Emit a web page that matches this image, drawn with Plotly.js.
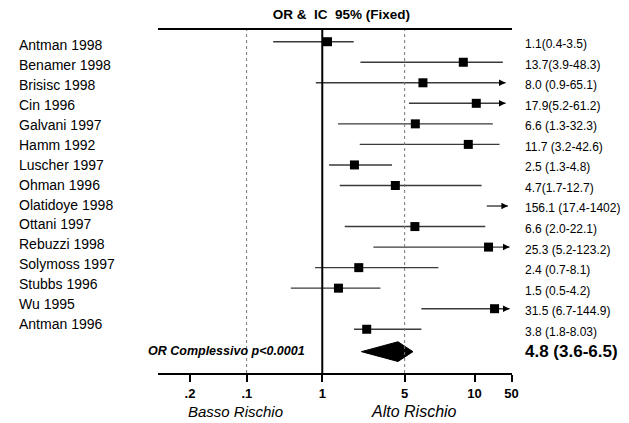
<!DOCTYPE html>
<html>
<head>
<meta charset="utf-8">
<script src="https://cdn.plot.ly/plotly-3.0.1.min.js"></script>
<style>html,body{margin:0;padding:0;background:#fff;}#chart{width:629px;height:423px;}</style>
</head>
<body>
<div id="chart"></div>
<script>
// ---- data ----
const studies = ["Antman 1998","Benamer 1998","Brisisc 1998","Cin 1996","Galvani 1997","Hamm 1992",
  "Luscher 1997","Ohman 1996","Olatidoye 1998","Ottani 1997","Rebuzzi 1998","Solymoss 1997",
  "Stubbs 1996","Wu 1995","Antman 1996"];
const orLabels = ["1.1(0.4-3.5)","13.7(3.9-48.3)","8.0 (0.9-65.1)","17.9(5.2-61.2)","6.6 (1.3-32.3)",
  "11.7 (3.2-42.6)","2.5 (1.3-4.8)","4.7(1.7-12.7)","156.1 (17.4-1402)","6.6 (2.0-22.1)",
  "25.3 (5.2-123.2)","2.4 (0.7-8.1)","1.5 (0.5-4.2)","31.5 (6.7-144.9)","3.8 (1.8-8.03)"];
// drawn positions (OR units on the chart's axis)
const orEst  = [1.107, 15.73, 7.15, 20.27, 6.16, 17.34, 1.875, 4.17, null, 6.11, 25.76, 2.04, 1.372, 28.97, 2.383];
const ciLow  = [0.383, 2.108, 0.881, 5.44, 1.361, 2.079, 1.142, 1.407, 24.9, 1.551, 2.716, 0.869, 0.541, 6.93, 1.86];
const ciHigh = [1.849, 34.06, 35.9, 35.9, 28.0, 31.9, 3.905, 22.48, 37.6, 24.15, 38.8, 9.66, 3.113, 38.8, 6.93];
const truncated = [false,false,true,true,false,false,false,false,true,false,true,false,false,true,false];
const pooledLow = 2.149, pooledEst = 4.39, pooledHigh = 5.88;
const pooledLabel = "4.8 (3.6-6.5)";
const pooledText = "OR Complessivo p<0.0001";
const tickValues = [0.0754, 0.229, 1, 5, 19.6, 40.4];
const tickLabels = [".2", ".1", "1", "5", "10", "50"];
const dottedRefs = [0.228, 5];
const solidRef = 1;

// ---- build ----
const L = v => (v == null ? null : Math.log10(v));
const FONT = "Liberation Sans, Arial, sans-serif";
const rows = studies.map((_, i) => i);
const sumRow = 15.09;

const lx = [], ly = [];
rows.forEach(i => { lx.push(L(ciLow[i]), L(ciHigh[i]), null); ly.push(i, i, null); });

const traces = [
  {x: lx, y: ly, mode: "lines", line: {color: "#3a3a3a", width: 1.4}, hoverinfo: "skip", showlegend: false},
  {x: orEst.map(L), y: rows, mode: "markers", marker: {symbol: "square", size: 9, color: "#000"},
   showlegend: false},
  {x: [L(pooledLow), L(pooledEst), L(pooledHigh), L(pooledEst), L(pooledLow)],
   y: [sumRow, sumRow - 0.48, sumRow, sumRow + 0.48, sumRow],
   mode: "lines", fill: "toself", fillcolor: "#000", line: {color: "#000", width: 1}, showlegend: false}
];

const shapes = [];
dottedRefs.forEach(v => shapes.push({type: "line", xref: "x", yref: "paper", x0: L(v), x1: L(v), y0: 0, y1: 1,
  line: {color: "#777", width: 1, dash: "dot"}}));
shapes.push({type: "line", xref: "x", yref: "paper", x0: L(solidRef), x1: L(solidRef), y0: 0, y1: 1,
  line: {color: "#000", width: 2}});

const annotations = [];
const labelY = i => 0.16 + i * 0.971;
studies.forEach((s, i) => annotations.push({xref: "paper", yref: "y", x: -0.398, y: labelY(i),
  xanchor: "left", yanchor: "middle", text: s, showarrow: false, font: {family: FONT, size: 14, color: "#000"}}));
orLabels.forEach((s, i) => annotations.push({xref: "paper", yref: "y", x: 1.031, y: i + 0.12,
  xanchor: "left", yanchor: "middle", text: s, showarrow: false, font: {family: FONT, size: 12, color: "#000"}}));
annotations.push({xref: "paper", yref: "y", x: 1.031, y: sumRow, xanchor: "left", yanchor: "middle",
  text: "<b>" + pooledLabel + "</b>", showarrow: false, font: {family: FONT, size: 17, color: "#000"}});
annotations.push({xref: "paper", yref: "y", x: -0.034, y: sumRow - 0.05, xanchor: "left", yanchor: "middle",
  text: "<b><i>" + pooledText + "</i></b>", showarrow: false, font: {family: FONT, size: 12.5, color: "#000"}});
rows.forEach(i => { if (truncated[i]) annotations.push({xref: "x", yref: "y", axref: "x", ayref: "y",
  x: L(ciHigh[i]), y: i, ax: L(ciHigh[i]) - 0.05, ay: i, text: "", showarrow: true,
  arrowhead: 2, arrowsize: 1, arrowwidth: 1.3, arrowcolor: "#000", standoff: 0, startstandoff: 0}); });
annotations.push({xref: "paper", yref: "paper", x: 0.220, y: -0.111, xanchor: "center", yanchor: "middle",
  text: "<i>Basso Rischio</i>", showarrow: false, font: {family: FONT, size: 15, color: "#000"}});
annotations.push({xref: "paper", yref: "paper", x: 0.723, y: -0.111, xanchor: "center", yanchor: "middle",
  text: "<i>Alto Rischio</i>", showarrow: false, font: {family: FONT, size: 16, color: "#000"}});

const layout = {
  width: 629, height: 423,
  margin: {l: 158, r: 117, t: 30, b: 50},
  paper_bgcolor: "#fff", plot_bgcolor: "#fff",
  title: {text: "<b>OR &amp;&nbsp; IC&nbsp; 95% (Fixed)</b>", font: {family: FONT, size: 13.5, color: "#000"},
    xref: "paper", x: 0.518, xanchor: "center", yref: "container", y: 0.967, yanchor: "middle"},
  xaxis: {type: "linear", range: [-1.394, 1.61], showgrid: false, zeroline: false,
    showline: true, linewidth: 2, linecolor: "#000", mirror: true,
    ticks: "outside", ticklen: 7, tickwidth: 2, tickcolor: "#000",
    tickvals: tickValues.map(L), ticktext: tickLabels.map(t => "<b>" + t + "</b>"),
    tickfont: {family: FONT, size: 13, color: "#000"}, fixedrange: true},
  yaxis: {visible: false, range: [16.13, -0.57], fixedrange: true},
  shapes: shapes, annotations: annotations, showlegend: false
};

Plotly.newPlot("chart", traces, layout, {displayModeBar: false, staticPlot: true});
</script>
</body>
</html>
